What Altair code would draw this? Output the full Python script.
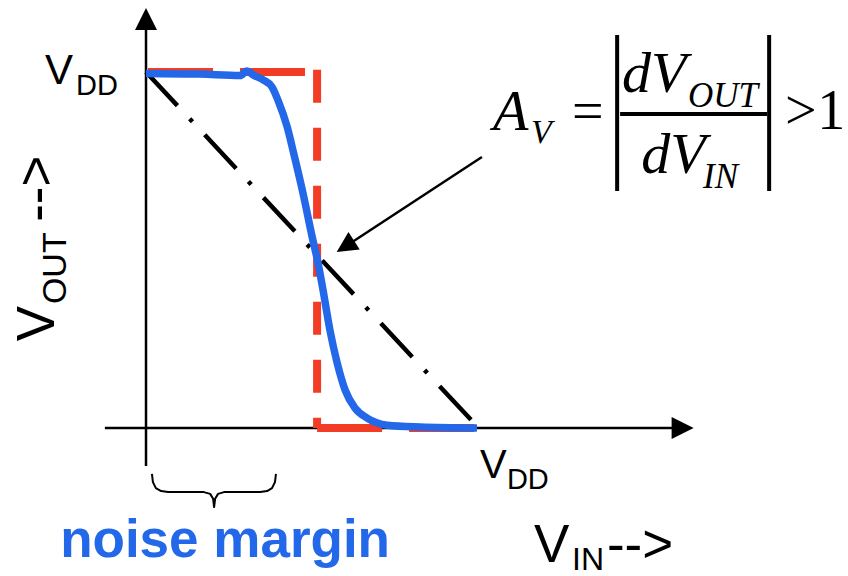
import altair as alt
import pandas as pd

# ---- inverter transfer characteristic (units of VDD) ----
VIN = [0.0, 0.164, 0.286, 0.307, 0.325, 0.356, 0.383, 0.401, 0.429, 0.450, 0.477,
       0.505, 0.523, 0.538, 0.559, 0.581, 0.605, 0.635, 0.672, 0.733, 0.833, 1.006]
VOUT = [0.996, 0.994, 0.990, 1.003, 0.992, 0.978, 0.958, 0.921, 0.846, 0.767, 0.660,
        0.537, 0.463, 0.388, 0.275, 0.183, 0.107, 0.056, 0.028, 0.008, 0.003, 0.0]

# ideal step response: horizontal pieces and the vertical switching edge
IDEAL_H_SEG = ["high", "high", "low", "low"]
IDEAL_H_VIN = [0.006, 0.52, 0.52, 1.0]
IDEAL_H_VOUT = [1.0, 1.0, 0.0, 0.0]
IDEAL_V_VIN = [0.52, 0.52]
IDEAL_V_VOUT = [1.006, 0.0]

# unity-gain reference line
LOAD_VIN = [0.0, 0.994]
LOAD_VOUT = [1.0, 0.017]

# noise-margin brace under the input axis
BRACE_VIN = [0.018, 0.021, 0.030, 0.046, 0.067, 0.176, 0.195, 0.204, 0.207,
             0.210, 0.219, 0.237, 0.347, 0.368, 0.383, 0.392, 0.395]
BRACE_Y = [-0.129, -0.152, -0.169, -0.177, -0.180, -0.180, -0.185, -0.199, -0.222,
           -0.199, -0.185, -0.180, -0.180, -0.177, -0.169, -0.152, -0.129]

X_DOMAIN = [-0.4438, 2.1337]
Y_DOMAIN = [-0.4157, 1.2022]

BLUE = "#2368E8"
RED = "#F23C26"

xsc = alt.Scale(domain=X_DOMAIN, nice=False, zero=False)
ysc = alt.Scale(domain=Y_DOMAIN, nice=False, zero=False)


def X(f):
    return alt.X(f"{f}:Q", scale=xsc, axis=None)


def Y(f):
    return alt.Y(f"{f}:Q", scale=ysc, axis=None)


# axes with arrowheads
axes_df = pd.DataFrame({
    "x": [-0.125, 0.0], "y": [0.0, -0.107],
    "x2": [1.599, 0.0], "y2": [0.0, 1.118],
})
axes = alt.Chart(axes_df).mark_rule(color="black", strokeWidth=2.5).encode(
    x=X("x"), y=Y("y"), x2="x2:Q", y2="y2:Q")

heads_df = pd.DataFrame({"x": [1.631, 0.0], "y": [0.0, 1.149], "angle": [90, 0]})
heads = alt.Chart(heads_df).mark_point(
    shape="M0,-1L1,1L-1,1Z", filled=True, size=484, color="black",
    opacity=1, strokeWidth=0).encode(
    x=X("x"), y=Y("y"), angle=alt.Angle("angle:Q", scale=None))

# ideal transfer curve (red dashed)
ideal_h = alt.Chart(pd.DataFrame({"seg": IDEAL_H_SEG, "vin": IDEAL_H_VIN, "vout": IDEAL_H_VOUT})
                    ).mark_line(color=RED, strokeWidth=8, strokeDash=[65, 27], strokeCap="butt").encode(
    x=X("vin"), y=Y("vout"), detail="seg:N")
ideal_v = alt.Chart(pd.DataFrame({"i": [0, 1], "vin": IDEAL_V_VIN, "vout": IDEAL_V_VOUT})
                    ).mark_line(color=RED, strokeWidth=8, strokeDash=[33, 25], strokeCap="butt").encode(
    x=X("vin"), y=Y("vout"), order="i:Q")

# gain = 1 reference (dash-dot)
load = alt.Chart(pd.DataFrame({"vin": LOAD_VIN, "vout": LOAD_VOUT})).mark_line(
    color="black", strokeWidth=4.5, strokeDash=[46, 18, 4, 18], strokeCap="butt").encode(
    x=X("vin"), y=Y("vout"))

# actual curve (blue)
curve = alt.Chart(pd.DataFrame({"vin": VIN, "vout": VOUT})).mark_line(
    color=BLUE, strokeWidth=7.5, interpolate="monotone", strokeCap="butt", strokeJoin="round").encode(
    x=X("vin"), y=Y("vout"))

# brace
brace = alt.Chart(pd.DataFrame({"i": list(range(len(BRACE_VIN))), "vin": BRACE_VIN, "y": BRACE_Y})
                  ).mark_line(color="black", strokeWidth=2, strokeJoin="round").encode(
    x=X("vin"), y=Y("y"), order="i:Q")

# pointer to the steep region
ptr = alt.Chart(pd.DataFrame({"x": [1.021], "y": [0.761], "x2": [0.606], "y2": [0.510]})
                ).mark_rule(color="black", strokeWidth=2.5).encode(
    x=X("x"), y=Y("y"), x2="x2:Q", y2="y2:Q")
ptr_head = alt.Chart(pd.DataFrame({"x": [0.606], "y": [0.510], "angle": [237]})).mark_point(
    shape="M0,-1L1,1L-1,1Z", filled=True, size=430, color="black",
    opacity=1, strokeWidth=0).encode(
    x=X("x"), y=Y("y"), angle=alt.Angle("angle:Q", scale=None))

# formula bars: |...| and fraction line
bars_df = pd.DataFrame({
    "x": [1.432, 1.894, 1.441], "x2": [1.432, 1.894, 1.888],
    "y": [1.104, 1.104, 0.882], "y2": [0.666, 0.666, 0.882],
})
bars = alt.Chart(bars_df).mark_rule(color="black", strokeWidth=4).encode(
    x=X("x"), y=Y("y"), x2="x2:Q", y2="y2:Q")

# sans labels
sans_df = pd.DataFrame({
    "t": ["V", "DD", "V", "DD", "V", "IN", "-->", "V", "OUT", "-->"],
    "x": [-0.307, -0.213, 1.015, 1.097, 1.179, 1.295, 1.401, -0.280, -0.243, -0.280],
    "y": [0.966, 0.935, -0.140, -0.171, -0.376, -0.399, -0.376, 0.244, 0.348, 0.579],
    "s": [42, 29, 40, 29, 53, 32, 53, 53, 34, 53],
    "a": [0, 0, 0, 0, 0, 0, 0, 270, 270, 270],
})
sans = alt.Chart(sans_df).mark_text(
    font="Liberation Sans", align="left", baseline="alphabetic", color="black").encode(
    x=X("x"), y=Y("y"), text="t:N", size=alt.Size("s:Q", scale=None),
    angle=alt.Angle("a:Q", scale=None))

noise = alt.Chart(pd.DataFrame({"t": ["noise margin"], "x": [-0.261], "y": [-0.362]})).mark_text(
    font="Liberation Sans", fontWeight="bold", fontSize=53, align="left",
    baseline="alphabetic", color=BLUE).encode(x=X("x"), y=Y("y"), text="t:N")

ital_df = pd.DataFrame({
    "t": ["A", "V", "dV", "OUT", "dV", "IN"],
    "x": [1.055, 1.170, 1.447, 1.647, 1.505, 1.693],
    "y": [0.837, 0.801, 0.944, 0.902, 0.716, 0.674],
    "s": [58, 34, 58, 35, 58, 35],
})
ital = alt.Chart(ital_df).mark_text(
    font="Liberation Serif", fontStyle="italic", align="left", baseline="alphabetic",
    color="black").encode(x=X("x"), y=Y("y"), text="t:N", size=alt.Size("s:Q", scale=None))

roman_df = pd.DataFrame({
    "t": ["=", ">", "1"],
    "x": [1.295, 1.942, 2.040],
    "y": [0.837, 0.840, 0.840],
})
roman = alt.Chart(roman_df).mark_text(
    font="Liberation Serif", fontSize=56, align="left", baseline="alphabetic",
    color="black").encode(x=X("x"), y=Y("y"), text="t:N")

chart = alt.layer(
    axes, heads, ideal_h, ideal_v, load, curve, brace, ptr, ptr_head, bars,
    sans, noise, ital, roman,
).properties(
    width=848, height=576, padding=0,
    autosize=alt.AutoSizeParams(type="none"), background="white",
).configure_view(stroke=None)

chart.save("out.html", embed_options={"renderer": "svg", "actions": False})
